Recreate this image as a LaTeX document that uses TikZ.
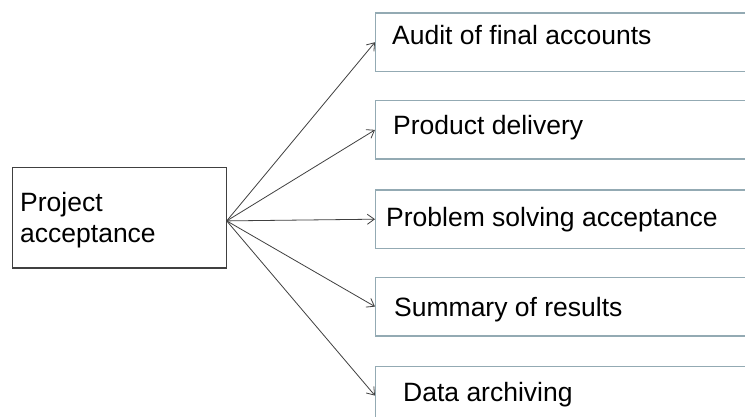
\documentclass[tikz,border=0pt]{standalone}
\usepackage{fontspec}
\setmainfont{Liberation Sans}
\usetikzlibrary{arrows.meta}
\definecolor{boxedge}{HTML}{93AAB3}
\definecolor{darkedge}{HTML}{404040}
\begin{document}
\begin{tikzpicture}[x=1pt,y=-1pt,
  label/.style={anchor=base west,inner sep=0pt,font=\fontsize{26.5}{31}\selectfont},
  itembox/.style={draw=boxedge,line width=1.3pt,anchor=north west,inner sep=0pt,
    minimum width=400pt,minimum height=58.5pt},
  rootbox/.style={draw=darkedge,line width=1.2pt,anchor=north west,inner sep=0pt,
    minimum width=213.5pt,minimum height=100pt},
  link/.style={draw=darkedge,line width=0.8pt,-{Straight Barb[length=7pt,width=10pt]}}]
\useasboundingbox (0,0) rectangle (745,417);
\clip (0,0) rectangle (745,417);
\fill[white] (0,0) rectangle (745,417);

% root box
\node[rootbox] (p) at (12,167.3) {};
\node[label] (pl1) at (20,211.7) {Project};
\node[label] (pl2) at (20,242.7) {acceptance};

% item boxes
\node[itembox] (b1) at (375,12.3) {};
\node[itembox] (b2) at (375,100) {};
\node[itembox] (b3) at (375,189.3) {};
\node[itembox] (b4) at (375,276.7) {};
\node[itembox] (b5) at (375,365.7) {};

\node[label] (t1) at (392,45) {Audit of final accounts};
\node[label] (t2) at (393,135) {Product delivery};
\node[label] (t3) at (386,226.7) {Problem solving acceptance};
\node[label] (t4) at (394,316.7) {Summary of results};
\node[label] (t5) at (403,401.7) {Data archiving};

% connectors
\coordinate (src) at ([yshift=-3pt]p.east);
\foreach \b in {b1,b2,b3,b4,b5}
  \draw[link] (src) -- (\b.west);
\end{tikzpicture}
\end{document}
